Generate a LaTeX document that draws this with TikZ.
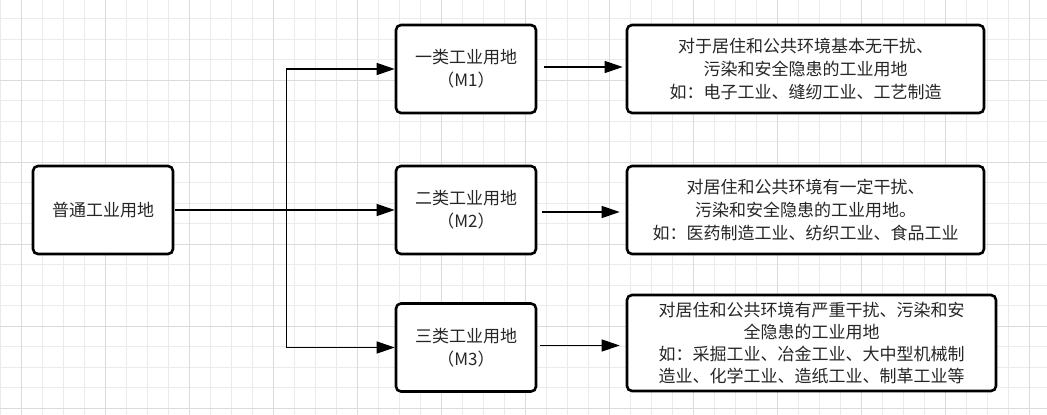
\documentclass[tikz,border=0pt]{standalone}
\usepackage{fontspec}
\setmainfont{Noto Sans CJK SC}
\usetikzlibrary{arrows.meta}
\begin{document}
\begin{tikzpicture}[x=1pt,y=-1pt,
  box/.style={draw=black,line width=2.6pt,rounded corners=5pt,fill=white,inner sep=0pt,
    font=\fontsize{17}{23}\selectfont,text=black!85,align=center},
  arr/.style={line width=1.3pt,-{Triangle[length=18pt,width=12pt]}},
  minor/.style={draw=black!8,line width=0.8pt},
  major/.style={draw=black!14,line width=0.8pt}]
\fill[white] (0,0) rectangle (1047,415);
\useasboundingbox (0,0) rectangle (1047,415);
% grid
\foreach \i in {0,...,50} {\draw[minor] (21*\i,0) -- (21*\i,415);}
\foreach \i in {0,...,21} {\draw[minor] (0,-2+20.5*\i) -- (1047,-2+20.5*\i);}
\foreach \i in {0,...,12} {\draw[major] (21+84*\i,0) -- (21+84*\i,415);}
\foreach \i in {0,...,5} {\draw[major] (0,-2+82*\i) -- (1047,-2+82*\i);}
% nodes
\node[box,minimum width=140pt,minimum height=88pt] (src) at (103,210) {普通工业用地};
\node[box,minimum width=140pt,minimum height=88pt] (m1) at (466,69) {一类工业用地\\（M1）};
\node[box,minimum width=140pt,minimum height=88pt] (m2) at (466,210) {二类工业用地\\（M2）};
\node[box,minimum width=140pt,minimum height=88pt] (m3) at (466,347.5) {三类工业用地\\（M3）};
\node[box,minimum width=357pt,minimum height=88pt] (r1) at (805.5,69) {对于居住和公共环境基本无干扰、\\污染和安全隐患的工业用地\\如：电子工业、缝纫工业、工艺制造};
\node[box,minimum width=357pt,minimum height=88pt] (r2) at (805.5,210) {对居住和公共环境有一定干扰、\\污染和安全隐患的工业用地。\\如：医药制造工业、纺织工业、食品工业};
\node[box,minimum width=369pt,minimum height=96pt,font=\fontsize{17}{22}\selectfont] (r3) at (811.5,343) {对居住和公共环境有严重干扰、污染和安\\全隐患的工业用地\\如：采掘工业、冶金工业、大中型机械制\\造业、化学工业、造纸工业、制革工业等};
% connectors
\draw[arr] ([xshift=1pt]src.east) -- (m2.west);
\draw[arr] ([xshift=1pt]src.east) -- ++(111,0) |- (m1.west);
\draw[arr] ([xshift=1pt]src.east) -- ++(111,0) |- (m3.west);
\draw[arr] ([xshift=7pt,yshift=2pt]m1.east) -- ([xshift=-3pt,yshift=2pt]m1.east -| r1.west);
\draw[arr] ([xshift=5pt,yshift=-2pt]m2.east) -- ([xshift=-6pt,yshift=-2pt]m2.east -| r2.west);
\draw[arr] ([xshift=3pt,yshift=2pt]m3.east) -- ([xshift=-6pt,yshift=2pt]m3.east -| r3.west);
\end{tikzpicture}
\end{document}
